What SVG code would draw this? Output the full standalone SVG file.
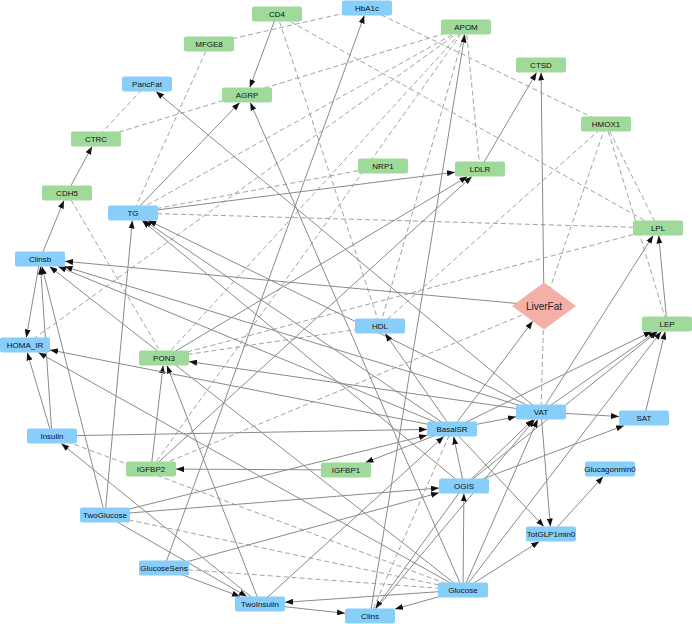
<svg xmlns="http://www.w3.org/2000/svg" width="692" height="624" viewBox="0 0 692 624">
<defs>
<marker id="arr" markerUnits="userSpaceOnUse" markerWidth="8" markerHeight="6" refX="8" refY="3" orient="auto"><path d="M0,0 L8,3 L0,6 z" fill="#111"/></marker>
<style>
.s{stroke:#8a8a8a;stroke-width:1;fill:none;marker-end:url(#arr)}
.d{stroke:#a3a3a3;stroke-width:1;fill:none;stroke-dasharray:5,3}
.b{fill:#87CEFA}
.g{fill:#A0DA9B}
.t{font-family:"Liberation Sans",Arial,sans-serif;font-size:8px;fill:#111;text-anchor:middle}
</style>
</defs>
<rect width="692" height="624" fill="#fff"/>
<g id="edges">
<line class="d" x1="209" y1="44" x2="367" y2="8"/>
<line class="d" x1="209" y1="44" x2="133" y2="213"/>
<line class="d" x1="277" y1="14" x2="380" y2="326"/>
<line class="d" x1="277" y1="14" x2="658" y2="228"/>
<line class="d" x1="367" y1="8" x2="606" y2="124"/>
<line class="d" x1="96" y1="139" x2="466" y2="27"/>
<line class="d" x1="147" y1="84" x2="96" y2="139"/>
<line class="d" x1="67" y1="193" x2="164" y2="358"/>
<line class="d" x1="466" y1="27" x2="133" y2="213"/>
<line class="d" x1="466" y1="27" x2="480" y2="169"/>
<line class="d" x1="466" y1="27" x2="380" y2="326"/>
<line class="d" x1="466" y1="27" x2="164" y2="358"/>
<line class="d" x1="466" y1="27" x2="151" y2="469"/>
<line class="d" x1="466" y1="27" x2="25" y2="345"/>
<line class="d" x1="133" y1="213" x2="383" y2="166"/>
<line class="d" x1="133" y1="213" x2="658" y2="228"/>
<line class="d" x1="164" y1="358" x2="658" y2="228"/>
<line class="d" x1="164" y1="358" x2="380" y2="326"/>
<line class="d" x1="544" y1="306" x2="606" y2="124"/>
<line class="d" x1="544" y1="306" x2="541" y2="412"/>
<line class="d" x1="544" y1="306" x2="151" y2="469"/>
<line class="d" x1="606" y1="124" x2="380" y2="326"/>
<line class="d" x1="606" y1="124" x2="658" y2="228"/>
<line class="d" x1="606" y1="124" x2="667" y2="324"/>
<line class="d" x1="370" y1="616" x2="452" y2="429"/>
<line class="d" x1="52" y1="436" x2="463" y2="590"/>
<line class="d" x1="105" y1="515" x2="463" y2="590"/>
<line class="d" x1="164" y1="568" x2="463" y2="590"/>
<line class="s" x1="277" y1="14" x2="249.8" y2="87.5"/>
<line class="s" x1="133" y1="213" x2="239.7" y2="102.5"/>
<line class="s" x1="463" y1="590" x2="250.3" y2="102.5"/>
<line class="s" x1="541" y1="412" x2="156" y2="91.5"/>
<line class="s" x1="67" y1="193" x2="92" y2="146.5"/>
<line class="s" x1="40" y1="259" x2="63.9" y2="200.5"/>
<line class="s" x1="40" y1="259" x2="26.3" y2="337.5"/>
<line class="s" x1="544" y1="306" x2="65" y2="261.3"/>
<line class="s" x1="164" y1="568" x2="364.3" y2="15.5"/>
<line class="s" x1="370" y1="616" x2="464.8" y2="34.5"/>
<line class="s" x1="480" y1="169" x2="536.6" y2="72.5"/>
<line class="s" x1="544" y1="306" x2="541.1" y2="72.5"/>
<line class="s" x1="133" y1="213" x2="455" y2="172.2"/>
<line class="s" x1="151" y1="469" x2="471.8" y2="176.5"/>
<line class="s" x1="164" y1="358" x2="467.5" y2="176.5"/>
<line class="s" x1="105" y1="515" x2="132.3" y2="220.5"/>
<line class="s" x1="452" y1="429" x2="144.1" y2="220.5"/>
<line class="s" x1="541" y1="412" x2="148.4" y2="220.5"/>
<line class="s" x1="464" y1="486" x2="142.1" y2="220.5"/>
<line class="s" x1="452" y1="429" x2="385.2" y2="333.5"/>
<line class="s" x1="452" y1="429" x2="532.7" y2="321.2"/>
<line class="s" x1="541" y1="412" x2="653.2" y2="235.5"/>
<line class="s" x1="667" y1="324" x2="658.7" y2="235.5"/>
<line class="s" x1="541" y1="412" x2="656.3" y2="331.5"/>
<line class="s" x1="452" y1="429" x2="651.6" y2="331.5"/>
<line class="s" x1="464" y1="486" x2="657.6" y2="331.5"/>
<line class="s" x1="644" y1="418" x2="665.2" y2="331.5"/>
<line class="s" x1="463" y1="590" x2="661.2" y2="331.5"/>
<line class="s" x1="452" y1="429" x2="516" y2="416.8"/>
<line class="s" x1="464" y1="486" x2="533.2" y2="419.5"/>
<line class="s" x1="463" y1="590" x2="537.7" y2="419.5"/>
<line class="s" x1="370" y1="616" x2="534.7" y2="419.5"/>
<line class="s" x1="541" y1="412" x2="619" y2="416.5"/>
<line class="s" x1="464" y1="486" x2="624.1" y2="425.5"/>
<line class="s" x1="541" y1="412" x2="550.4" y2="526.5"/>
<line class="s" x1="452" y1="429" x2="543.9" y2="526.5"/>
<line class="s" x1="463" y1="590" x2="539.2" y2="541.5"/>
<line class="s" x1="551" y1="534" x2="603.2" y2="476.5"/>
<line class="s" x1="463" y1="590" x2="463.9" y2="493.5"/>
<line class="s" x1="464" y1="486" x2="453.6" y2="436.5"/>
<line class="s" x1="52" y1="436" x2="427" y2="429.4"/>
<line class="s" x1="105" y1="515" x2="427" y2="435.2"/>
<line class="s" x1="260" y1="604" x2="443.8" y2="436.5"/>
<line class="s" x1="452" y1="429" x2="365.4" y2="462.5"/>
<line class="s" x1="346" y1="470" x2="176" y2="469.1"/>
<line class="s" x1="105" y1="515" x2="439" y2="488"/>
<line class="s" x1="164" y1="568" x2="439" y2="492.8"/>
<line class="s" x1="463" y1="590" x2="395" y2="609"/>
<line class="s" x1="260" y1="604" x2="345" y2="613.3"/>
<line class="s" x1="463" y1="590" x2="285" y2="602.3"/>
<line class="s" x1="105" y1="515" x2="246.9" y2="596.5"/>
<line class="s" x1="164" y1="568" x2="240" y2="596.5"/>
<line class="s" x1="260" y1="604" x2="61.3" y2="443.5"/>
<line class="s" x1="151" y1="469" x2="163.1" y2="365.5"/>
<line class="s" x1="260" y1="604" x2="166.9" y2="365.5"/>
<line class="s" x1="541" y1="412" x2="189" y2="361.6"/>
<line class="s" x1="452" y1="429" x2="50" y2="349.9"/>
<line class="s" x1="463" y1="590" x2="38.4" y2="352.5"/>
<line class="s" x1="52" y1="436" x2="27.2" y2="352.5"/>
<line class="s" x1="52" y1="436" x2="40.5" y2="266.5"/>
<line class="s" x1="105" y1="515" x2="41.9" y2="266.5"/>
<line class="s" x1="541" y1="412" x2="64.5" y2="266.5"/>
<line class="s" x1="452" y1="429" x2="58.2" y2="266.5"/>
<line class="s" x1="463" y1="590" x2="49.6" y2="266.5"/>
<line class="s" x1="464" y1="486" x2="375.4" y2="608.5"/>
</g>
<g id="node-CD4"><rect class="g" x="252" y="6.5" width="50" height="15" rx="2"/><text class="t" x="277" y="17">CD4</text></g>
<g id="node-HbA1c"><rect class="b" x="342" y="0.5" width="50" height="15" rx="2"/><text class="t" x="367" y="11">HbA1c</text></g>
<g id="node-MFGE8"><rect class="g" x="184" y="36.5" width="50" height="15" rx="2"/><text class="t" x="209" y="47">MFGE8</text></g>
<g id="node-APOM"><rect class="g" x="441" y="19.5" width="50" height="15" rx="2"/><text class="t" x="466" y="30">APOM</text></g>
<g id="node-PancFat"><rect class="b" x="122" y="76.5" width="50" height="15" rx="2"/><text class="t" x="147" y="87">PancFat</text></g>
<g id="node-AGRP"><rect class="g" x="222" y="87.5" width="50" height="15" rx="2"/><text class="t" x="247" y="98">AGRP</text></g>
<g id="node-CTSD"><rect class="g" x="516" y="57.5" width="50" height="15" rx="2"/><text class="t" x="541" y="68">CTSD</text></g>
<g id="node-CTRC"><rect class="g" x="71" y="131.5" width="50" height="15" rx="2"/><text class="t" x="96" y="142">CTRC</text></g>
<g id="node-HMOX1"><rect class="g" x="581" y="116.5" width="50" height="15" rx="2"/><text class="t" x="606" y="127">HMOX1</text></g>
<g id="node-NRP1"><rect class="g" x="358" y="158.5" width="50" height="15" rx="2"/><text class="t" x="383" y="169">NRP1</text></g>
<g id="node-LDLR"><rect class="g" x="455" y="161.5" width="50" height="15" rx="2"/><text class="t" x="480" y="172">LDLR</text></g>
<g id="node-CDH5"><rect class="g" x="42" y="185.5" width="50" height="15" rx="2"/><text class="t" x="67" y="196">CDH5</text></g>
<g id="node-TG"><rect class="b" x="108" y="205.5" width="50" height="15" rx="2"/><text class="t" x="133" y="216">TG</text></g>
<g id="node-LPL"><rect class="g" x="633" y="220.5" width="50" height="15" rx="2"/><text class="t" x="658" y="231">LPL</text></g>
<g id="node-Clinsb"><rect class="b" x="15" y="251.5" width="50" height="15" rx="2"/><text class="t" x="40" y="262">Clinsb</text></g>
<g id="node-LiverFat"><polygon points="512,306 544,282.5 576,306 544,329.5" fill="#F5AFA9"/><text x="544" y="309.5" style="font-family:'Liberation Sans',Arial,sans-serif;font-size:10px;fill:#222;text-anchor:middle">LiverFat</text></g>
<g id="node-HDL"><rect class="b" x="355" y="318.5" width="50" height="15" rx="2"/><text class="t" x="380" y="329">HDL</text></g>
<g id="node-LEP"><rect class="g" x="642" y="316.5" width="50" height="15" rx="2"/><text class="t" x="667" y="327">LEP</text></g>
<g id="node-HOMA_IR"><rect class="b" x="0" y="337.5" width="50" height="15" rx="2"/><text class="t" x="25" y="348">HOMA_IR</text></g>
<g id="node-PON3"><rect class="g" x="139" y="350.5" width="50" height="15" rx="2"/><text class="t" x="164" y="361">PON3</text></g>
<g id="node-VAT"><rect class="b" x="516" y="404.5" width="50" height="15" rx="2"/><text class="t" x="541" y="415">VAT</text></g>
<g id="node-SAT"><rect class="b" x="619" y="410.5" width="50" height="15" rx="2"/><text class="t" x="644" y="421">SAT</text></g>
<g id="node-BasalSR"><rect class="b" x="427" y="421.5" width="50" height="15" rx="2"/><text class="t" x="452" y="432">BasalSR</text></g>
<g id="node-Insulin"><rect class="b" x="27" y="428.5" width="50" height="15" rx="2"/><text class="t" x="52" y="439">Insulin</text></g>
<g id="node-IGFBP2"><rect class="g" x="126" y="461.5" width="50" height="15" rx="2"/><text class="t" x="151" y="472">IGFBP2</text></g>
<g id="node-IGFBP1"><rect class="g" x="321" y="462.5" width="50" height="15" rx="2"/><text class="t" x="346" y="473">IGFBP1</text></g>
<g id="node-Glucagonmin0"><rect class="b" x="585" y="461.5" width="50" height="15" rx="2"/><text class="t" x="610" y="472">Glucagonmin0</text></g>
<g id="node-OGIS"><rect class="b" x="439" y="478.5" width="50" height="15" rx="2"/><text class="t" x="464" y="489">OGIS</text></g>
<g id="node-TwoGlucose"><rect class="b" x="80" y="507.5" width="50" height="15" rx="2"/><text class="t" x="105" y="518">TwoGlucose</text></g>
<g id="node-TotGLP1min0"><rect class="b" x="526" y="526.5" width="50" height="15" rx="2"/><text class="t" x="551" y="537">TotGLP1min0</text></g>
<g id="node-GlucoseSens"><rect class="b" x="139" y="560.5" width="50" height="15" rx="2"/><text class="t" x="164" y="571">GlucoseSens</text></g>
<g id="node-Glucose"><rect class="b" x="438" y="582.5" width="50" height="15" rx="2"/><text class="t" x="463" y="593">Glucose</text></g>
<g id="node-TwoInsulin"><rect class="b" x="235" y="596.5" width="50" height="15" rx="2"/><text class="t" x="260" y="607">TwoInsulin</text></g>
<g id="node-Clins"><rect class="b" x="345" y="608.5" width="50" height="15" rx="2"/><text class="t" x="370" y="619">Clins</text></g>
</svg>
